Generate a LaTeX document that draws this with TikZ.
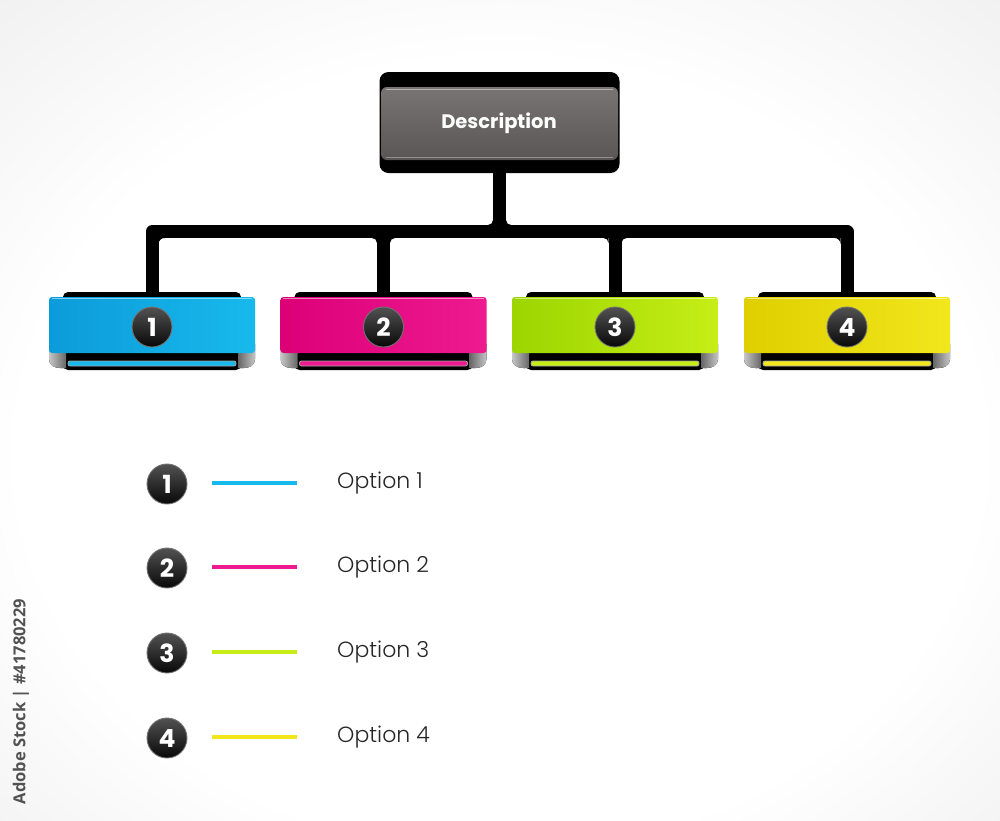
\documentclass[tikz,border=0pt]{standalone}
\usepackage{fontspec}
\IfFontExistsTF{Poppins}{\newfontfamily\popf{Poppins}}{\newfontfamily\popf{DejaVu Sans}}
\IfFontExistsTF{Poppins Light}{\newfontfamily\optfont{Poppins Light}}{\newfontfamily\optfont{Poppins}}
\newfontfamily\wmfont{Open Sans}
\definecolor{blueL}{HTML}{0C9BDA}
\definecolor{blueR}{HTML}{17B9EC}
\definecolor{magL}{HTML}{DC0077}
\definecolor{magR}{HTML}{EE1A90}
\definecolor{limeL}{HTML}{9CD500}
\definecolor{limeR}{HTML}{C6EE16}
\definecolor{yelL}{HTML}{DFCF00}
\definecolor{yelR}{HTML}{F1E71C}
\definecolor{descgray}{HTML}{625C5C}
\pgfdeclareradialshading{vign}{\pgfpoint{0bp}{-4bp}}{color(0bp)=(white); color(24bp)=(white); color(50bp)=(black!11); color(72bp)=(black!17)}
\tikzset{
  tree/.style={draw=black, line width=13pt, line join=round},
  backbox/.style={fill=black, rounded corners=5pt, minimum width=178pt, minimum height=78pt, inner sep=0pt},
  band/.style={rounded corners=3pt, minimum width=206pt, minimum height=56pt, inner sep=0pt},
  slot/.style={draw=black!35, line width=0.8pt, rounded corners=2pt, minimum width=168pt, minimum height=5pt, inner sep=0pt},
  numc/.style={circle, minimum size=40pt, inner sep=0pt, draw=black!55, line width=0.9pt, top color=black!68, bottom color=black!97, text=white, font=\popf\bfseries\fontsize{25}{25}\selectfont},
  opttext/.style={anchor=base west, inner sep=0pt, text=black!85, font=\optfont\fontsize{22}{22}\selectfont},
  legline/.style={line width=3.5pt}
}
\begin{document}
\begin{tikzpicture}[x=1pt,y=-1pt]
\useasboundingbox (0,0) rectangle (1000,820);
\path[shading=vign] (0,0) rectangle (1000,820);

% description box
\node[fill=black, rounded corners=9pt, minimum width=240pt, minimum height=101pt, inner sep=0pt] (desc) at (499.5,122.5) {};
\fill[top color=descgray!85!white, bottom color=descgray!92!black, rounded corners=6pt] (381,87) rectangle (618,160);
\draw[white, opacity=0.45, line width=0.8pt] (386,89.5) -- (613,89.5);
\draw[white, opacity=0.35, line width=0.8pt] (386,157.5) -- (613,157.5);
\node[anchor=base, inner sep=0pt, text=white, font=\popf\bfseries\fontsize{19.5}{19.5}\selectfont] (desctext) at (499,128.5) {Description};

% back boxes
\foreach \i/\x in {1/152,2/383.5,3/615,4/847}{
  \node[backbox] (b\i) at (\x,331) {};
}

% connectors
\coordinate (j) at (desc.south |- 0,231.5);
\draw[tree] (desc.south) -- (j);
\draw[tree] (b1.north) -- (b1.north |- j) -- (b4.north |- j) -- (b4.north);
\draw[tree] (b2.north) -- (b2.north |- j);
\draw[tree] (b3.north) -- (b3.north |- j);
% fillets at the joints
\foreach \cx/\cy/\sx/\sy/\r in {493/225/-1/-1/5, 506/225/1/-1/5, 377/238/-1/1/5, 390/238/1/1/5, 608.5/238/-1/1/5, 621.5/238/1/1/5, 158.5/238/1/1/6, 840.5/238/-1/1/6}{
  \fill (\cx,\cy) -- (\cx+\sx*\r,\cy) .. controls (\cx+\sx*0.448*\r,\cy) and (\cx,\cy+\sy*0.448*\r) .. (\cx,\cy+\sy*\r) -- cycle;
}

% colored bands
\foreach \i/\x/\cl/\cr in {1/152/blueL/blueR,2/383.5/magL/magR,3/615/limeL/limeR,4/847/yelL/yelR}{
  \fill[left color=black!22, right color=black!60] (\x-103,344) -- (\x-103,359) .. controls (\x-103,365) and (\x-98,368) .. (\x-92,368) -- (\x-86,368) -- (\x-86,344) -- cycle;
  \fill[right color=black!22, left color=black!60] (\x+103,344) -- (\x+103,359) .. controls (\x+103,365) and (\x+98,368) .. (\x+92,368) -- (\x+86,368) -- (\x+86,344) -- cycle;
  \node[band, left color=\cl, right color=\cr] (band\i) at (\x,325) {};
  \draw[white, opacity=0.5, line width=1pt] ([xshift=3pt,yshift=-1.2pt]band\i.north west) -- ([xshift=-3pt,yshift=-1.2pt]band\i.north east);
  \node[slot, fill=\cr] (slot\i) at (\x,363.5) {};
  \node[numc] (n\i) at (\x,327) {\i};
}

% legend
\foreach \i/\y/\c in {1/484/blueR,2/568/magR,3/653/limeR,4/738/yelR}{
  \node[numc] (l\i) at (167,\y) {\i};
  \coordinate (ls\i) at (212,\y-1);
  \coordinate (le\i) at (297,\y-1);
  \draw[legline, \c] (ls\i) -- (le\i);
  \node[opttext] (o\i) at (337,\y+4) {Option \i};
}

% side credit
\node[rotate=90, inner sep=0pt, text=black!68, font=\wmfont\bfseries\fontsize{16.5}{16.5}\selectfont] (credit) at (21,701.5) {Adobe Stock | \#41780229};
\end{tikzpicture}
\end{document}
